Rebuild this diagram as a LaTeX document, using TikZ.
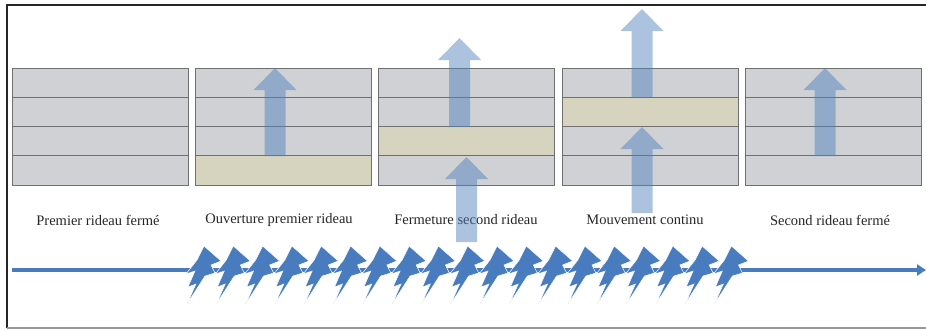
\documentclass[tikz,border=0pt]{standalone}
\usepackage{fontspec}
\setmainfont{Liberation Serif}
\usepackage{tikz}
\usetikzlibrary{calc,arrows.meta}

\definecolor{stripgray}{RGB}{208,209,213}
\definecolor{stripline}{RGB}{112,112,112}
\definecolor{openbeige}{RGB}{214,211,190}
\definecolor{officeblue}{RGB}{79,129,189}
\definecolor{boltblue}{RGB}{72,124,190}

% one upward block arrow: centre x, foot y, tip y
\newcommand{\uparr}[3]{%
	\fill[flow] (#1-10.5,#2) -- (#1-10.5,#3+22) -- (#1-21.5,#3+22) -- (#1,#3)
	-- (#1+21.5,#3+22) -- (#1+10.5,#3+22) -- (#1+10.5,#2) -- cycle;}

\begin{document}
\begin{tikzpicture}[x=1pt,y=-1pt,inner sep=0pt,
	strip/.style={rectangle,draw=stripline,fill=stripgray,line width=1pt,minimum width=176pt,minimum height=29.25pt},
	open/.style={fill=openbeige},
	flow/.style={fill=officeblue,fill opacity=0.48},
	label/.style={font=\fontsize{14.5}{16}\selectfont,text=black!85},
	timeline/.style={draw=boltblue,line width=3.6pt,-{Triangle[length=9pt,width=11pt]}},
	bolt/.style={fill=boltblue,draw=white,line width=0.5pt}]
	
	\useasboundingbox (0,0) rectangle (926,330);
	
	% frame
	\coordinate (f1) at (7,328);
	\coordinate (f2) at (7,5);
	\coordinate (f3) at (926,5);
	\coordinate (f4) at (926,328);
	\draw[line width=2.5pt,black!85] (f1) -- (f2) -- (f3);
	\draw[line width=1.5pt,black!40] (f1) -- (f4);
	
	% the five panels, four strips each
	\foreach \p in {1,...,5}{
		\foreach \s in {1,...,4}{
			\node at ({100+183.4*(\p-1)},{68+29.25*(\s-0.5)}) [strip] (p\p s\s) {};
		}
	};
	\node at (p2s4) [strip,open] {};
	\node at (p3s3) [strip,open] {};
	\node at (p4s2) [strip,open] {};
	
	% labels
	\node at (98,220) [label] (lab1) {Premier rideau fermé};
	\node at (279,220) [label] (lab2) {Ouverture premier rideau};
	\node at (466,220) [label] (lab3) {Fermeture second rideau};
	\node at (645,220) [label] (lab4) {Mouvement continu};
	\node at (830,220) [label] (lab5) {Second rideau fermé};
	
	% moving slits
	\uparr{275}{156}{68}
	\uparr{459.5}{127}{38}
	\uparr{466.5}{242}{157}
	\uparr{642}{97}{9}
	\uparr{642}{213}{127}
	\uparr{825}{156}{68}
	
	% time axis
	\coordinate (t0) at (12,270);
	\coordinate (t1) at (926,270);
	\path[timeline] (t0) -- (t1);
	
	\foreach \i in {0,...,18}{
		\fill[bolt] ($(204+29.3*\i,270)$) +(0,-24) -- +(17,-9) -- +(7,-5) -- +(11,3)
		-- +(1,6) -- +(-17,34) -- +(-8,14) -- +(-16,17) -- +(-9,1) -- +(-18,4)
		-- +(-7,-10) -- cycle;
	};
	
\end{tikzpicture}
\end{document}
